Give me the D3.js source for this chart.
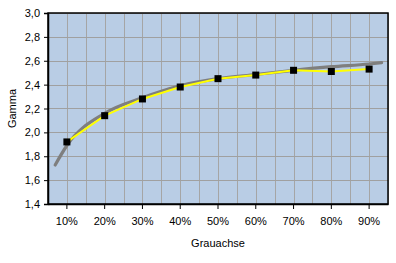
<!DOCTYPE html>
<html>
<head>
<meta charset="utf-8">
<script src="https://cdn.jsdelivr.net/npm/d3@7"></script>
<style>
  body { margin: 0; background: #fff; }
  svg { display: block; font-family: "Liberation Sans", Arial, sans-serif; }
</style>
</head>
<body>
<svg id="chart" width="396" height="263"></svg>
<script>
// categories and measured gamma values
const categories = ['10%', '20%', '30%', '40%', '50%', '60%', '70%', '80%', '90%'];
const gammaValues = [1.92, 2.14, 2.28, 2.38, 2.45, 2.48, 2.52, 2.51, 2.53];

// grey fitted curve (position in category units, value)
const trendPos = [-0.31, 0, 1, 2, 3, 4, 5, 6, 7, 8, 8.33];
const trendValues = [1.727, 1.89, 2.16, 2.29, 2.39, 2.45, 2.485, 2.52, 2.55, 2.573, 2.584];

const yTicks = [1.4, 1.6, 1.8, 2.0, 2.2, 2.4, 2.6, 2.8, 3.0];

const margin = { top: 13, right: 8, bottom: 59, left: 48 };
const width = 396, height = 263;

const svg = d3.select('#chart');

const x = d3.scaleBand()
  .domain(categories)
  .range([margin.left, width - margin.right])
  .padding(0);

// same axis, in category index units
const xi = d3.scaleLinear()
  .domain([-0.5, categories.length - 0.5])
  .range([margin.left, width - margin.right]);

const y = d3.scaleLinear()
  .domain([1.4, 3.0])
  .range([height - margin.bottom, margin.top]);

// plot background
svg.append('rect')
  .attr('x', margin.left)
  .attr('y', margin.top)
  .attr('width', width - margin.left - margin.right)
  .attr('height', height - margin.top - margin.bottom)
  .attr('fill', '#b9cde5');

// vertical grid every half category
const vGrid = d3.range(0, categories.length * 2 + 1).map(k => -0.5 + k / 2);
svg.append('g')
  .selectAll('line')
  .data(vGrid)
  .enter().append('line')
  .attr('x1', d => Math.round(xi(d)) + 0.5)
  .attr('x2', d => Math.round(xi(d)) + 0.5)
  .attr('y1', margin.top)
  .attr('y2', height - margin.bottom)
  .attr('stroke', '#a5a5a5')
  .attr('stroke-width', 1);

// horizontal grid
svg.append('g')
  .selectAll('line')
  .data(yTicks)
  .enter().append('line')
  .attr('x1', margin.left)
  .attr('x2', width - margin.right)
  .attr('y1', d => Math.round(y(d)) + 0.5)
  .attr('y2', d => Math.round(y(d)) + 0.5)
  .attr('stroke', '#a0a0a0')
  .attr('stroke-width', 1);

// border
svg.append('rect')
  .attr('x', margin.left)
  .attr('y', margin.top)
  .attr('width', width - margin.left - margin.right)
  .attr('height', height - margin.top - margin.bottom)
  .attr('fill', 'none')
  .attr('stroke', '#000')
  .attr('stroke-width', 1.5);

// trend curve
const trend = trendPos.map((p, i) => [p, trendValues[i]]);
svg.append('path')
  .datum(trend)
  .attr('d', d3.line()
    .x(d => xi(d[0]))
    .y(d => y(d[1]))
    .curve(d3.curveMonotoneX))
  .attr('fill', 'none')
  .attr('stroke', '#7f7f7f')
  .attr('stroke-width', 3.2)
  .attr('stroke-linecap', 'round');

// measured line
svg.append('path')
  .datum(gammaValues)
  .attr('d', d3.line()
    .x((d, i) => x(categories[i]) + x.bandwidth() / 2)
    .y(d => y(d)))
  .attr('fill', 'none')
  .attr('stroke', '#ffff00')
  .attr('stroke-width', 2);

// markers
svg.append('g')
  .selectAll('rect')
  .data(gammaValues)
  .enter().append('rect')
  .attr('x', (d, i) => x(categories[i]) + x.bandwidth() / 2 - 3.5)
  .attr('y', d => y(d) - 3.5)
  .attr('width', 7)
  .attr('height', 7)
  .attr('fill', '#000');

// y axis
const yAxis = d3.axisLeft(y)
  .tickValues(yTicks)
  .tickSize(4)
  .tickPadding(4)
  .tickFormat(d => d3.format('.1f')(d).replace('.', ','));
const gy = svg.append('g')
  .attr('transform', `translate(${margin.left},0)`)
  .call(yAxis);
gy.select('.domain').attr('stroke-width', 1.5);
gy.selectAll('text').style('font-size', '11px').attr('fill', '#000');

// x axis
const xAxis = d3.axisBottom(x)
  .tickSize(5)
  .tickPadding(8)
  .tickSizeOuter(0);
const gx = svg.append('g')
  .attr('transform', `translate(0,${height - margin.bottom})`)
  .call(xAxis);
gx.select('.domain').attr('stroke-width', 1.5);
gx.selectAll('text').style('font-size', '11px').attr('fill', '#000');

// axis titles
svg.append('text')
  .attr('x', (margin.left + width - margin.right) / 2)
  .attr('y', 247)
  .attr('text-anchor', 'middle')
  .style('font-size', '11px')
  .text('Grauachse');

svg.append('text')
  .attr('transform', `translate(16, ${(margin.top + height - margin.bottom) / 2}) rotate(-90)`)
  .attr('text-anchor', 'middle')
  .style('font-size', '11px')
  .text('Gamma');
</script>
</body>
</html>
